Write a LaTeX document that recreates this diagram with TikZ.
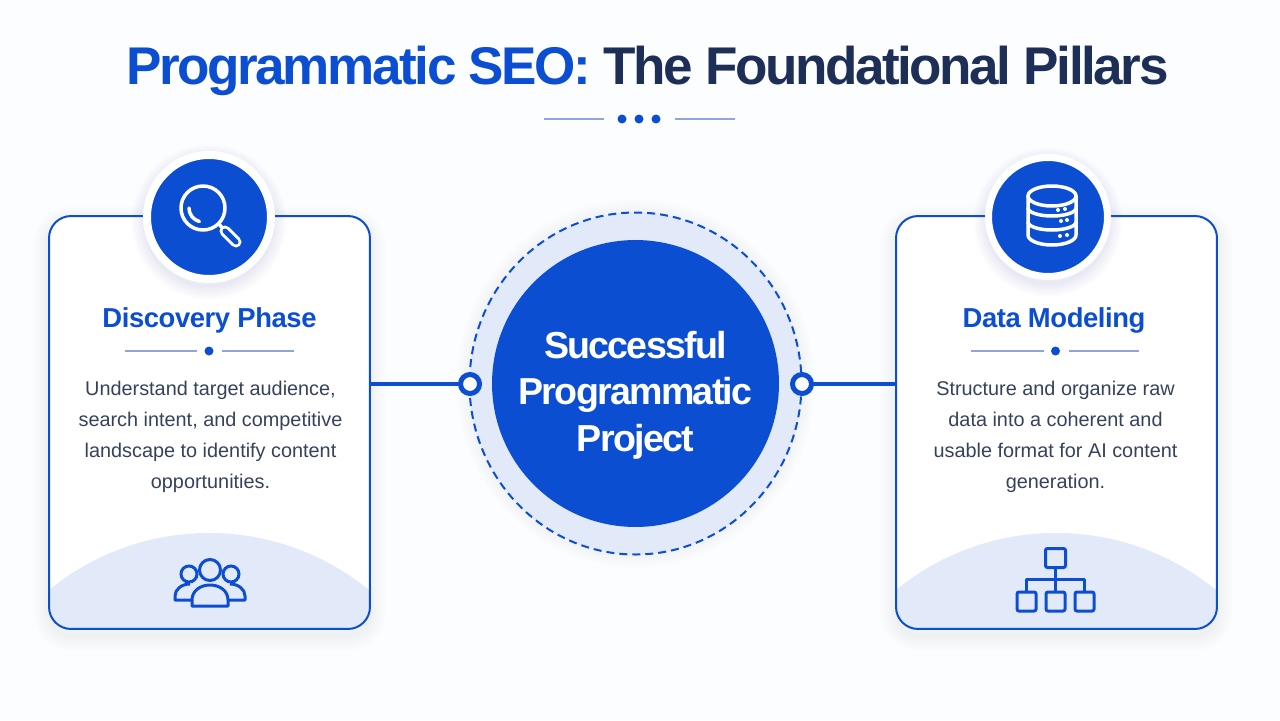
\documentclass[tikz,border=0pt]{standalone}
\usepackage{fontspec}
\setmainfont{Liberation Sans}
\newfontfamily\tightfont[LetterSpace=-4.6]{Liberation Sans}
\newfontfamily\snugfont[LetterSpace=-1.5]{Liberation Sans}
\usetikzlibrary{backgrounds,calc}
\definecolor{pillarblue}{HTML}{0B4ED2}
\definecolor{titlenavy}{HTML}{1E2F57}
\definecolor{palefill}{HTML}{E2E9F9}
\definecolor{rulegrey}{HTML}{8FA6DC}
\definecolor{bodygrey}{HTML}{36425C}
\definecolor{pagetint}{HTML}{FCFDFF}
\begin{document}
\begin{tikzpicture}[x=0.02cm,y=-0.02cm,
    card/.style={rectangle,draw=pillarblue,line width=0.04cm,rounded corners=0.44cm,minimum width=6.42cm,minimum height=8.26cm,inner sep=0pt,outer sep=0pt},
    disc/.style={circle,fill=pillarblue,draw=white,outer sep=0pt,inner sep=0pt},
    port/.style={circle,draw=pillarblue,fill=white,line width=0.1cm,minimum size=0.38cm,inner sep=0pt,outer sep=0pt},
    link/.style={draw=pillarblue,line width=0.08cm},
    hair/.style={draw=rulegrey,line width=0.03cm},
    dot/.style={circle,fill=pillarblue,minimum size=0.18cm,inner sep=0pt,outer sep=0pt},
    heading/.style={text=pillarblue,font=\fontsize{15.6}{18}\snugfont\bfseries},
    blurb/.style={text=bodygrey,align=center,font=\fontsize{11.3}{17.7}\selectfont},
    whiteline/.style={draw=white,line width=0.07cm,line cap=round,line join=round},
    iconline/.style={draw=pillarblue,line width=0.06cm,line join=round},
    leaf/.style={rectangle,draw=pillarblue,line width=0.06cm,rounded corners=0.04cm,minimum width=0.38cm,minimum height=0.38cm,inner sep=0pt,outer sep=0pt}]

    \useasboundingbox (0,0) rectangle (1280,720);

    % title
    \node (title) at (647.5,71) {\fontsize{30.2}{36}\tightfont\bfseries\color{pillarblue}Programmatic SEO: \color{titlenavy}The Foundational Pillars};
    \coordinate (ruleaa) at (544,119);
    \coordinate (ruleab) at (604,119);
    \coordinate (ruleba) at (675,119);
    \coordinate (rulebb) at (735,119);
    \draw[hair] (ruleaa) -- (ruleab);
    \draw[hair] (ruleba) -- (rulebb);
    \foreach \x in {622,639,656}
        \node[dot] (titledot\x) at (\x,119) {};

    % cards
    \node[card] (discovery) at (209.5,422.5) {};
    \node[card] (modeling) at (1056.5,422.5) {};

    % hub
    \node[circle,fill=pillarblue,minimum size=5.74cm,inner sep=0pt,outer sep=0pt] (hub) at (635.5,383.5) {};
    \node[text=white,align=center,font=\fontsize{21.4}{26.5}\tightfont\bfseries] (hubtext) at (635.5,395) {Successful\\Programmatic\\Project};
    \draw[draw=pillarblue,line width=0.04cm,dash pattern=on 0.16cm off 0.1cm] (hub.center) ellipse [x radius=166,y radius=171];
    \node[port] (portl) at (470,384) {};
    \node[port] (portr) at (802,384) {};
    \draw[link] (portl -| discovery.east) -- (portl);
    \draw[link] (portr) -- (portr -| modeling.west);

    % icon discs
    \node[disc,line width=0.16cm,minimum size=2.48cm] (finddisc) at (209,217) {};
    \node[disc,line width=0.14cm,minimum size=2.38cm] (datadisc) at (1048,217) {};

    % card texts
    \node[heading] (discoverytitle) at (209.5,320) {Discovery Phase};
    \node[heading] (modelingtitle) at (1054,320) {Data Modeling};
    \node[dot] (discoverydot) at (209,351) {};
    \node[dot] (modelingdot) at (1055.5,351) {};
    \coordinate (da) at (125,351);
    \coordinate (db) at (294,351);
    \coordinate (ma) at (971,351);
    \coordinate (mb) at (1139,351);
    \draw[hair] (da) -- ($(discoverydot)+(-12,0)$);
    \draw[hair] (db) -- ($(discoverydot)+(13,0)$);
    \draw[hair] (ma) -- ($(modelingdot)+(-12,0)$);
    \draw[hair] (mb) -- ($(modelingdot)+(13,0)$);
    \node[blurb] (discoverytext) at (210.5,437) {Understand target audience,\\search intent, and competitive\\landscape to identify content\\opportunities.};
    \node[blurb] (modelingtext) at (1055.5,437) {Structure and organize raw\\data into a coherent and\\usable format for AI content\\generation.};

    % magnifier
    \draw[whiteline] (203,208) circle (22);
    \draw[whiteline] (189,208) arc [start angle=180,end angle=105,radius=14];
    \draw[whiteline] (219,224) -- (224,230);
    \draw[draw=white,line width=0.22cm,line cap=round] (225,231) -- (236,242);
    \draw[draw=pillarblue,line width=0.1cm,line cap=round] (225,231) -- (236,242);

    % database
    \draw[whiteline] (1052,196) ellipse [x radius=24,y radius=10];
    \draw[whiteline] (1028,196) -- (1028,235) arc [start angle=180,end angle=360,x radius=24,y radius=-10] -- (1076,196);
    \draw[whiteline] (1028,208) arc [start angle=180,end angle=360,x radius=24,y radius=-8];
    \draw[whiteline] (1028,222) arc [start angle=180,end angle=360,x radius=24,y radius=-8];
    \foreach \x/\y in {1058/210,1065/209,1061/221,1067/220,1060/236,1067/235}
        \fill[white] (\x,\y) circle (2);

    % people
    \node[circle,draw=pillarblue,line width=0.06cm,minimum size=0.32cm,inner sep=0pt] (headl) at (189,574) {};
    \node[circle,draw=pillarblue,line width=0.06cm,minimum size=0.32cm,inner sep=0pt] (headr) at (231,574) {};
    \draw[iconline] (197,600) -- (175,600) -- (175,596) .. controls (175,589) and (182,584) .. (190,584);
    \draw[iconline] (223,600) -- (245,600) -- (245,596) .. controls (245,589) and (238,584) .. (230,584);
    \draw[iconline,fill=palefill] (192,606) -- (192,600) .. controls (192,591) and (200,585) .. (210,585) .. controls (220,585) and (228,591) .. (228,600) -- (228,606) -- cycle;
    \node[circle,draw=pillarblue,fill=palefill,line width=0.06cm,minimum size=0.42cm,inner sep=0pt] (headc) at (210,570) {};

    % org chart
    \node[leaf,minimum width=0.4cm,minimum height=0.38cm] (orgroot) at (1055.5,558) {};
    \node[leaf] (orgleft) at (1026.5,601.5) {};
    \node[leaf] (orgmid) at (1055.5,601.5) {};
    \node[leaf] (orgright) at (1084.5,601.5) {};
    \coordinate (orgjoint) at (1055.5,579);
    \draw[iconline] (orgroot) -- (orgmid);
    \draw[iconline] (orgleft) |- (orgjoint) -| (orgright);

    % everything soft goes behind
    \begin{pgfonlayer}{background}
        \fill[pagetint] (0,0) rectangle (1280,720);
        \foreach \w in {0.05,0.1,...,0.7}
            \draw[draw=pillarblue,opacity=0.004,line width=\w cm,rounded corners=0.44cm] ($(discovery.south west)+(0,6)$) rectangle ($(discovery.north east)+(0,6)$);
        \foreach \w in {0.05,0.1,...,0.7}
            \draw[draw=pillarblue,opacity=0.004,line width=\w cm,rounded corners=0.44cm] ($(modeling.south west)+(0,6)$) rectangle ($(modeling.north east)+(0,6)$);
        \fill[white,rounded corners=0.44cm] (discovery.south west) rectangle (discovery.north east);
        \fill[white,rounded corners=0.44cm] (modeling.south west) rectangle (modeling.north east);
        \begin{scope}
            \clip[rounded corners=0.44cm] (discovery.south west) rectangle (discovery.north east);
            \fill[palefill] (209,786) circle (253);
        \end{scope}
        \begin{scope}
            \clip[rounded corners=0.44cm] (modeling.south west) rectangle (modeling.north east);
            \fill[palefill] (1056,786) circle (253);
        \end{scope}
        \foreach \w in {0.05,0.1,...,0.6} {
            \draw[draw=pillarblue,opacity=0.007,line width=\w cm] ($(finddisc.center)+(0,5)$) circle (64);
            \draw[draw=pillarblue,opacity=0.007,line width=\w cm] ($(datadisc.center)+(0,5)$) circle (61);
            \draw[draw=pillarblue,opacity=0.004,line width=\w cm] (hub.center) ellipse [x radius=166,y radius=171];
        }
        \fill[palefill] (hub.center) ellipse [x radius=166,y radius=171];
    \end{pgfonlayer}
\end{tikzpicture}
\end{document}
